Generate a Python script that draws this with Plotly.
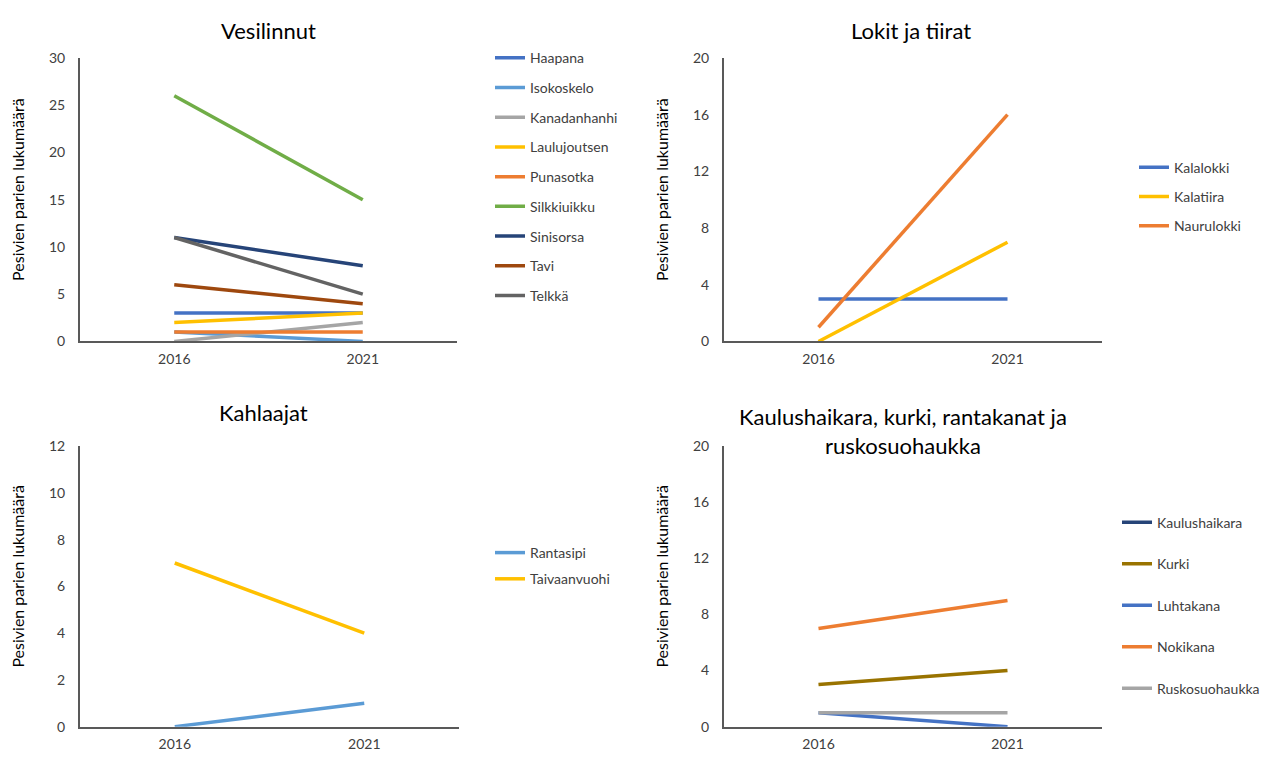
import plotly.graph_objects as go

W, H = 1273, 765
years = ["2016", "2021"]

# Vesilinnut
vesi_names = ["Haapana", "Isokoskelo", "Kanadanhanhi", "Laulujoutsen", "Punasotka",
              "Silkkiuikku", "Sinisorsa", "Tavi", "Telkkä"]
vesi_vals = [[3, 3], [1, 0], [0, 2], [2, 3], [1, 1], [26, 15], [11, 8], [6, 4], [11, 5]]
vesi_colors = ["#4472C4", "#5B9BD5", "#A5A5A5", "#FFC000", "#ED7D31",
               "#70AD47", "#264478", "#9E480E", "#636363"]

# Lokit ja tiirat
lokit_names = ["Kalalokki", "Kalatiira", "Naurulokki"]
lokit_vals = [[3, 3], [0, 7], [1, 16]]
lokit_colors = ["#4472C4", "#FFC000", "#ED7D31"]

# Kahlaajat
kahl_names = ["Rantasipi", "Taivaanvuohi"]
kahl_vals = [[0, 1], [7, 4]]
kahl_colors = ["#5B9BD5", "#FFC000"]

# Kaulushaikara, kurki, rantakanat ja ruskosuohaukka
kaul_names = ["Kaulushaikara", "Kurki", "Luhtakana", "Nokikana", "Ruskosuohaukka"]
kaul_vals = [[None, None], [3, 4], [1, 0], [7, 9], [1, 1]]
kaul_colors = ["#264478", "#997300", "#4472C4", "#ED7D31", "#A5A5A5"]

titles = ["Vesilinnut", "Lokit ja tiirat", "Kahlaajat",
          "Kaulushaikara, kurki, rantakanat ja<br>ruskosuohaukka"]
ytitle = "Pesivien parien lukumäärä"

FONT = "Lato, Carlito, Calibri, sans-serif"
TXT = "#404040"
AX = "#595959"

def px_x(p):
    return p / W

def px_y(p):
    return 1 - p / H

panels = [
    dict(names=vesi_names, vals=vesi_vals, colors=vesi_colors,
         xd=(80, 457), yd=(50, 340), yr=(0, 30), dt=5, leg=(490, 34), gap=8.5),
    dict(names=lokit_names, vals=lokit_vals, colors=lokit_colors,
         xd=(724, 1102), yd=(50, 340), yr=(0, 20), dt=4, leg=(1134, 146), gap=8),
    dict(names=kahl_names, vals=kahl_vals, colors=kahl_colors,
         xd=(80, 459), yd=(447, 734), yr=(0, 12), dt=2, leg=(490, 540), gap=5),
    dict(names=kaul_names, vals=kaul_vals, colors=kaul_colors,
         xd=(724, 1102), yd=(447, 734), yr=(0, 20), dt=4, leg=(1117, 509), gap=20.3),
]

fig = go.Figure()
layout = dict(
    width=W, height=H, margin=dict(l=0, r=0, t=0, b=0),
    paper_bgcolor="white", plot_bgcolor="white",
    font=dict(family=FONT, size=14, color=TXT),
    annotations=[],
)

for i, p in enumerate(panels):
    n = i + 1
    xa = "x" if n == 1 else f"x{n}"
    ya = "y" if n == 1 else f"y{n}"
    lg = "legend" if n == 1 else f"legend{n}"
    for name, vals, col in zip(p["names"], p["vals"], p["colors"]):
        fig.add_trace(go.Scatter(
            x=years, y=vals, name=name, mode="lines",
            line=dict(color=col, width=3.5),
            xaxis=xa, yaxis=ya, legend=lg, legendgroup=f"{n}_{name}",
            showlegend=True, connectgaps=False,
        ))
    xkey = "xaxis" if n == 1 else f"xaxis{n}"
    ykey = "yaxis" if n == 1 else f"yaxis{n}"
    layout[xkey] = dict(
        domain=[px_x(p["xd"][0]), px_x(p["xd"][1])], anchor=ya,
        type="category", range=[-0.5, 1.5], showgrid=False, zeroline=False,
        showline=True, linecolor=AX, linewidth=2, ticks="",
        ticklabelstandoff=4,
        tickfont=dict(size=14, color=TXT, family=FONT), fixedrange=True,
    )
    layout[ykey] = dict(
        domain=[px_y(p["yd"][1]), px_y(p["yd"][0])], anchor=xa,
        range=list(p["yr"]), dtick=p["dt"], showgrid=False, zeroline=False,
        showline=True, linecolor=AX, linewidth=2, ticks="",
        ticklabelstandoff=10,
        tickfont=dict(size=14, color=TXT, family=FONT), fixedrange=True,
    )
    layout[lg] = dict(
        x=px_x(p["leg"][0]), y=px_y(p["leg"][1]), xanchor="left", yanchor="top",
        xref="paper", yref="paper", bgcolor="rgba(0,0,0,0)",
        font=dict(size=14, color=TXT, family=FONT),
        tracegroupgap=p["gap"], itemwidth=30, traceorder="grouped",
    )
    # y-axis title
    cx = 18 if p["xd"][0] < 400 else 662
    layout["annotations"].append(dict(
        text=ytitle, x=px_x(cx), y=px_y((p["yd"][0] + p["yd"][1]) / 2 - 10),
        xref="paper", yref="paper", showarrow=False, textangle=-90,
        font=dict(size=16, color="#000000", family=FONT),
        xanchor="center", yanchor="middle",
    ))

# subplot titles
title_pos = [(268, 22), (911, 22), (263, 413), (903, 432)]
for t, (tx, ty) in zip(titles, title_pos):
    layout["annotations"].append(dict(
        text=t, x=px_x(tx), y=px_y(ty), xref="paper", yref="paper",
        showarrow=False, xanchor="center", yanchor="middle",
        font=dict(size=22, color="#000000", family=FONT),
    ))

fig.update_layout(**layout)
fig.write_html("out.html")
